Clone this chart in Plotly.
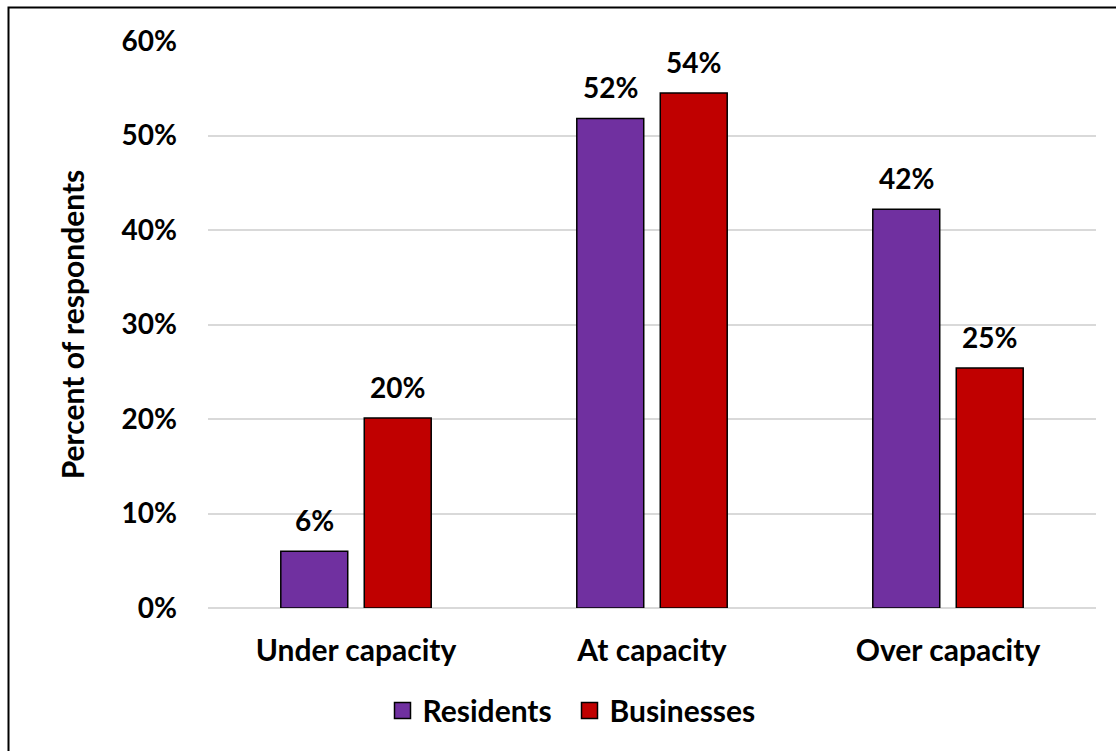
import plotly.graph_objects as go

categories = ["Under capacity", "At capacity", "Over capacity"]
residents = [0.060, 0.518, 0.422]
businesses = [0.201, 0.545, 0.254]
residents_labels = ["6%", "52%", "42%"]
businesses_labels = ["20%", "54%", "25%"]
y_ticks = [0, 0.1, 0.2, 0.3, 0.4, 0.5, 0.6]
y_tick_labels = ["0%", "10%", "20%", "30%", "40%", "50%", "60%"]

FONT = "Lato"
W, H = 1116, 751
ML, MR, MT, MB = 208, 20, 41, 143
pw = W - ML - MR
ph = H - MT - MB
BARGAP = 0.436
GROUPGAP = 0.198
slot = pw / len(categories) * (1 - BARGAP) / 2
offsets = [-slot / 2, slot / 2]

fig = go.Figure()
series = [("Residents", residents, residents_labels, "#7030A0"),
          ("Businesses", businesses, businesses_labels, "#C00000")]
annotations = []
for (name, vals, labels, color), off in zip(series, offsets):
    fig.add_trace(go.Bar(
        name=name, x=categories, y=vals, showlegend=False,
        marker=dict(color=color, line=dict(color="black", width=1.5)),
        hoverinfo="x+y",
    ))
    for c, v, t in zip(categories, vals, labels):
        annotations.append(dict(
            x=c, y=v, xref="x", yref="y", text="<b>" + t + "</b>",
            showarrow=False, xshift=off, yshift=12, yanchor="bottom",
            font=dict(family=FONT, size=28, color="black")))

# legend entries (square swatches with black outline, like the bars)
for name, vals, labels, color in series:
    fig.add_trace(go.Scatter(
        name="<b>" + name + "</b>", x=[None], y=[None], mode="markers",
        marker=dict(symbol="square", size=17, color=color,
                    line=dict(color="black", width=1.5)),
        showlegend=True,
    ))

fig.update_layout(
    width=W, height=H,
    margin=dict(l=ML, r=MR, t=MT, b=MB),
    paper_bgcolor="white", plot_bgcolor="white",
    barmode="group", bargap=BARGAP, bargroupgap=GROUPGAP,
    font=dict(family=FONT, color="black"),
    showlegend=True,
    legend=dict(orientation="h", x=(392.5 - ML - 10) / pw, xanchor="left",
                y=-0.135, yanchor="top",
                font=dict(family=FONT, size=30, color="black"),
                entrywidth=142, entrywidthmode="pixels",
                itemsizing="trace", traceorder="normal"),
    yaxis=dict(range=[0, 0.6], tickvals=y_ticks,
               ticktext=["<b>" + s + "</b>" for s in y_tick_labels],
               showgrid=True, gridcolor="#D9D9D9", gridwidth=1.5,
               zeroline=True, zerolinecolor="#D9D9D9", zerolinewidth=1.5,
               showline=False, ticks="", ticklabelstandoff=30,
               tickfont=dict(family=FONT, size=28, color="black"),
               title=dict(text="<b>Percent of respondents</b>", standoff=28,
                          font=dict(family=FONT, size=30, color="black"))),
    xaxis=dict(showline=False, ticks="", showgrid=False,
               tickvals=categories,
               ticktext=["<b>" + c + "</b>" for c in categories],
               ticklabelstandoff=22,
               tickfont=dict(family=FONT, size=30, color="black")),
    annotations=annotations,
    shapes=[dict(type="rect", xref="paper", yref="paper",
                 x0=(8.5 - ML) / pw, x1=(W + 10 - ML) / pw,
                 y0=(MT + ph - (H + 10)) / ph, y1=(MT + ph - 7.5) / ph,
                 line=dict(color="black", width=2), layer="above")],
)

fig.write_html("out.html")
